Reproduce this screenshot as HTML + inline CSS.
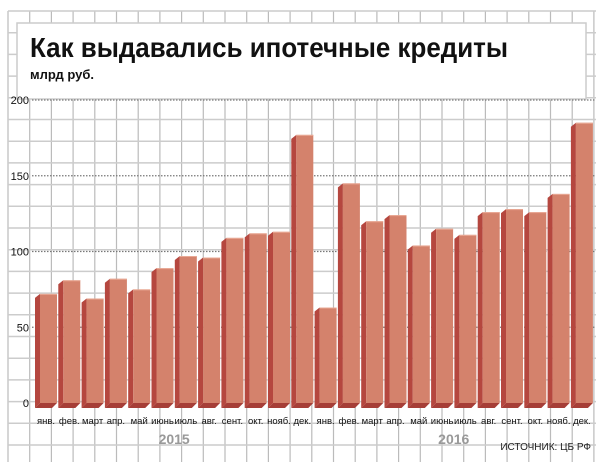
<!DOCTYPE html>
<html><head><meta charset="utf-8"><style>
body{margin:0;background:#fff;}
svg{display:block;font-family:"Liberation Sans","DejaVu Sans",sans-serif;}
</style></head><body>
<svg id="c" width="603" height="473">
<g id="grid"></g>
<g id="hdr">
<rect x="17" y="23" width="569" height="76" fill="#fff" stroke="#ccc" stroke-width="1.5"/>
<text x="30" y="57" font-size="28" font-weight="bold" fill="#111" textLength="478" lengthAdjust="spacingAndGlyphs">Как выдавались ипотечные кредиты</text>
<text x="30" y="79" font-size="13" font-weight="bold" fill="#111">млрд руб.</text>
</g>
<g id="axis"></g>
<g id="bars"></g>
<g id="xl"></g>
<text x="591" y="450" font-size="10" text-anchor="end" fill="#222">ИСТОЧНИК: ЦБ РФ</text>
</svg>
<script>
const categories=["янв.","фев.","март","апр.","май","июнь","июль","авг.","сент.","окт.","нояб.","дек.","янв.","фев.","март","апр.","май","июнь","июль","авг.","сент.","окт.","нояб.","дек."];
const values=[72,81,69,82,75,89,97,96,109,112,113,177,63,145,120,124,104,115,111,126,128,126,138,185];
const yTicks=[0,50,100,150,200];
const years=["2015","2016"];
const NS="http://www.w3.org/2000/svg";
function mk(t,a,p){const e=document.createElementNS(NS,t);for(const k in a)e.setAttribute(k,a[k]);p.appendChild(e);return e;}
const y=v=>403-v*1.515;
const xb=i=>35+i*23.3;
const g=document.getElementById('grid');
for(let x=8;x<=597;x+=21.7){const l=mk('line',{x1:x,x2:x,y1:11,y2:462,stroke:'#bbb','stroke-width':1.2},g);}
for(let yy=11;yy<=463;yy+=21.7){const l=mk('line',{x1:8,x2:596,y1:yy,y2:yy,stroke:'#ccc','stroke-width':1.5},g);}
const ax=document.getElementById('axis');
yTicks.forEach(t=>{const tx=mk('text',{x:29,y:y(t)+4,'font-size':11,'text-anchor':'end',fill:'#111'},ax);tx.textContent=t;
if(t>0){const l=mk('line',{x1:32,x2:596,y1:y(t),y2:y(t),stroke:'#777','stroke-width':1.2,'stroke-dasharray':'1.5,1.5'},ax);}});
const b=document.getElementById('bars');
values.forEach((v,i)=>{const x=xb(i),top=y(v);
const gg=mk('g',{},b);
mk('polygon',{points:`${x},${top+4} ${x+5},${top} ${x+5},${403} ${x},${408}`,fill:'#b5473f'},gg);
mk('polygon',{points:`${x},408 ${x+5},403 ${x+22},403 ${x+17},408`,fill:'#a63e37'},gg);
mk('rect',{x:x+5,y:top,width:17,height:403-top,fill:'#d4826c'},gg);
mk('line',{x1:x+5,x2:x+22,y1:top+.5,y2:top+.5,stroke:'#e9a995','stroke-width':1},gg);
const tx=mk('text',{x:x+11,y:424,'font-size':9.5,'text-anchor':'middle',fill:'#111'},document.getElementById('xl'));tx.textContent=categories[i];});
years.forEach((yr,k)=>{const tx=mk('text',{x:xb(k*12+5.5)+11,y:444,'font-size':14,'font-weight':'bold','text-anchor':'middle',fill:'#999'},document.getElementById('xl'));tx.textContent=yr;});
</script>
</body></html>
